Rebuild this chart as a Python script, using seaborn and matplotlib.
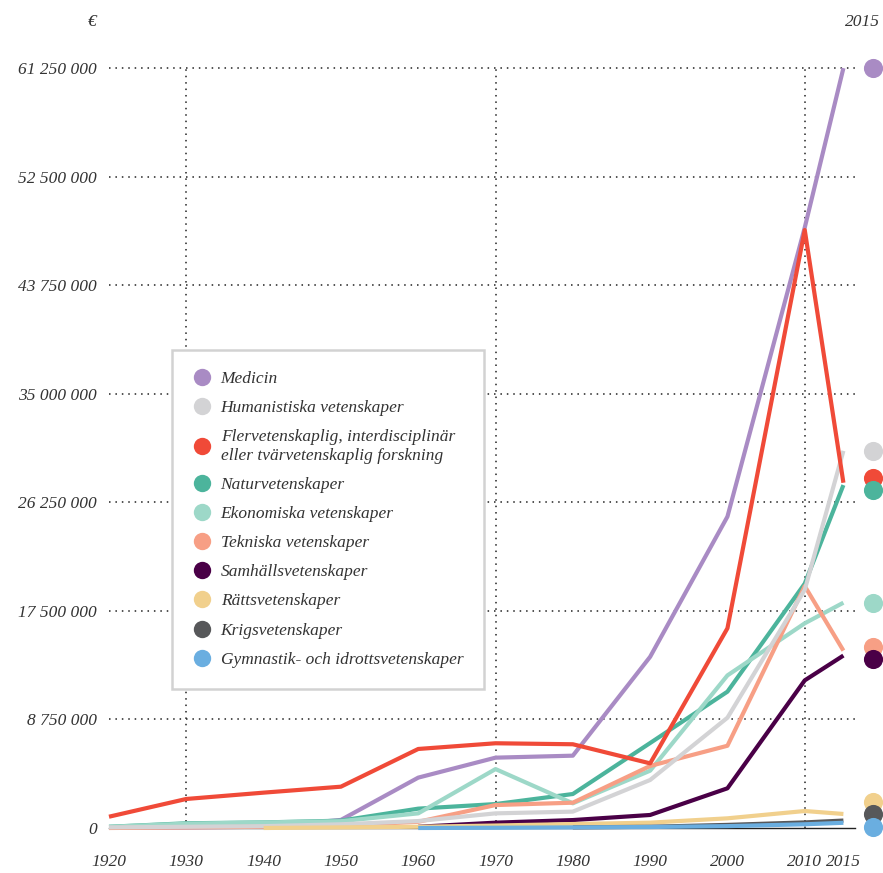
import numpy as np
import pandas as pd
import matplotlib
matplotlib.use("Agg")
import matplotlib.pyplot as plt
from matplotlib.lines import Line2D
import seaborn as sns

years = [1920, 1930, 1940, 1950, 1960, 1970, 1980, 1990, 2000, 2010, 2015]
nan = np.nan

categories = [
    "Medicin",
    "Humanistiska vetenskaper",
    "Flervetenskaplig, interdisciplinär\neller tvärvetenskaplig forskning",
    "Naturvetenskaper",
    "Ekonomiska vetenskaper",
    "Tekniska vetenskaper",
    "Samhällsvetenskaper",
    "Rättsvetenskaper",
    "Krigsvetenskaper",
    "Gymnastik- och idrottsvetenskaper",
]
colors = ["#a98bc4", "#d3d3d5", "#f04a38", "#4cb49c", "#9dd8c8",
          "#f79f85", "#4a0047", "#f1d08d", "#57585a", "#6aaee0"]

# values in millions of euro
medicin        = [0.05, 0.05, 0.1, 0.65, 4.06, 5.67, 5.83, 13.8, 25.1, 48.4, 61.25]
humanistiska   = [0.05, 0.1, 0.15, 0.3, 0.56, 1.18, 1.32, 3.87, 8.89, 19.2, 30.4]
flervetenskap  = [0.91, 2.34, 2.85, 3.33, 6.37, 6.83, 6.75, 5.21, 16.1, 48.2, 27.83]
naturvet       = [0.1, 0.38, 0.45, 0.59, 1.56, 1.93, 2.74, 6.85, 10.99, 19.7, 27.64]
ekonomiska     = [0.1, 0.35, 0.45, 0.55, 1.18, 4.75, 1.99, 4.62, 12.3, 16.5, 18.16]
tekniska       = [0.0, 0.05, 0.1, 0.2, 0.5, 1.85, 2.04, 5.0, 6.63, 19.5, 14.3]
samhalls       = [nan, nan, nan, nan, 0.1, 0.43, 0.64, 1.05, 3.2, 11.9, 13.9]
ratts          = [nan, nan, 0.0, 0.05, 0.1, 0.2, 0.32, 0.43, 0.78, 1.37, 1.13]
krigs          = [nan, nan, nan, nan, nan, nan, 0.05, 0.1, 0.25, 0.45, 0.6]
gymnastik      = [nan, nan, nan, nan, 0.0, 0.02, 0.05, 0.08, 0.15, 0.3, 0.42]

series = [medicin, humanistiska, flervetenskap, naturvet, ekonomiska,
          tekniska, samhalls, ratts, krigs, gymnastik]

yticks = [0, 8.75, 17.5, 26.25, 35.0, 43.75, 52.5, 61.25]
ytick_labels = ["0", "8 750 000", "17 500 000", "26 250 000", "35 000 000",
                "43 750 000", "52 500 000", "61 250 000"]
xticks = [1920, 1930, 1940, 1950, 1960, 1970, 1980, 1990, 2000, 2010, 2015]
xtick_labels = [str(x) for x in xticks]
vgrid_years = [1930, 1970, 2010]

rows = []
for cat, vals in zip(categories, series):
    for yr, v in zip(years, vals):
        if not np.isnan(v):
            rows.append({"year": yr, "value": v, "cat": cat})
df = pd.DataFrame(rows)

sns.set_theme(style="white")
plt.rcParams["font.family"] = ["Liberation Serif", "DejaVu Serif"]
plt.rcParams["font.style"] = "italic"

text_color = "#333333"
fig = plt.figure(figsize=(8.83, 8.73), dpi=100)
ax = fig.add_axes([109 / 883, 45 / 873, 746 / 883, 794 / 873])

draw_order = [0, 3, 4, 5, 6, 1, 2, 7, 8, 9]
palette = {categories[i]: colors[i] for i in range(len(categories))}
sns.lineplot(data=df, x="year", y="value", hue="cat",
             hue_order=[categories[i] for i in draw_order],
             palette=palette, linewidth=3.0, legend=False, ax=ax, zorder=3)
for ln in ax.lines:
    ln.set_clip_on(False)
    ln.set_solid_capstyle("butt")

ax.set_xlim(1920, 2016.5)
ax.set_ylim(0, 64.0)

# dotted grid
for yv in yticks[1:]:
    ax.axhline(yv, color="#222222", lw=1.1, ls=(0, (1, 3.2)), zorder=1)
for xv in vgrid_years:
    ax.vlines(xv, 0, yticks[-1], color="#222222", lw=1.1, ls=(0, (1, 3.2)), zorder=1)

for s in ["top", "right", "left"]:
    ax.spines[s].set_visible(False)
ax.spines["bottom"].set_color("#222222")
ax.spines["bottom"].set_linewidth(1.0)

ax.set_xticks(xticks)
ax.set_xticklabels(xtick_labels)
ax.set_yticks(yticks)
ax.set_yticklabels(ytick_labels)
ax.tick_params(axis="x", direction="out", length=3.5, width=1, color="#222222",
               pad=15, labelsize=12.5, labelcolor=text_color)
ax.tick_params(axis="y", length=0, pad=8.5, labelsize=12.5, labelcolor=text_color)
for lab in ax.get_xticklabels() + ax.get_yticklabels():
    lab.set_fontstyle("italic")
ax.set_xlabel("")
ax.set_ylabel("")

# end dots with simple repel
ends = np.array([s[-1] for s in series], dtype=float)
gap = 1.0
pos = ends.copy()
for _ in range(200):
    order = np.argsort(pos)
    moved = False
    for a, b in zip(order[:-1], order[1:]):
        d = pos[b] - pos[a]
        if d < gap:
            shift = (gap - d) / 2
            pos[a] -= shift
            pos[b] += shift
            moved = True
    pos = np.maximum(pos, 0.1)
    if not moved:
        break
dot_x = 2018.8
for i in range(len(series)):
    ax.scatter([dot_x], [pos[i]], s=190, color=colors[i], clip_on=False,
               zorder=5, linewidths=0)

fig.text(97 / 883, 1 - 22 / 873, "€", ha="right", va="center",
         fontsize=12.5, color=text_color, style="italic")
fig.text(880 / 883, 1 - 22 / 873, "2015", ha="right", va="center",
         fontsize=12.5, color=text_color, style="italic")

handles = [Line2D([0], [0], marker="o", linestyle="none", markersize=12.5,
                  markerfacecolor=c, markeredgewidth=0) for c in colors]
leg = ax.legend(handles, categories, loc="upper left",
                bbox_to_anchor=((172 - 109) / 746, (828 - 350) / 794),
                borderaxespad=0, frameon=True, fancybox=False,
                fontsize=12.5, handletextpad=0.5, labelspacing=0.75,
                borderpad=1.2, handlelength=1.1)
frame = leg.get_frame()
frame.set_edgecolor("#d2d2d2")
frame.set_linewidth(1.8)
frame.set_facecolor("white")
frame.set_alpha(1)
leg.set_zorder(6)
for t in leg.get_texts():
    t.set_color(text_color)
    t.set_fontstyle("italic")

fig.savefig("out.png", dpi=100)
